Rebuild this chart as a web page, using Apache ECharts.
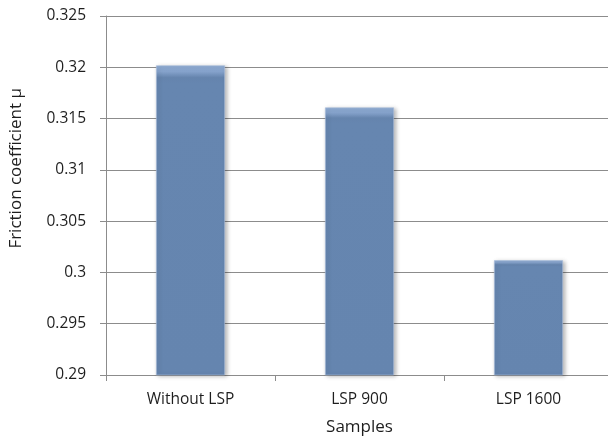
<!DOCTYPE html>
<html>
<head>
<meta charset="utf-8">
<script src="https://cdn.jsdelivr.net/npm/echarts@6/dist/echarts.min.js"></script>
<style>
  html, body { margin: 0; padding: 0; background: #fff; }
  #chart { width: 608px; height: 438px; }
</style>
</head>
<body>
<div id="chart"></div>
<script>
// Friction coefficient per sample
const categories = ['Without LSP', 'LSP 900', 'LSP 1600'];
const frictionValues = [0.3202, 0.3161, 0.3012];
const yTicks = { min: 0.29, max: 0.325, step: 0.005 };

const FONT = '"Open Sans", "Liberation Sans", sans-serif';
const TEXT = '#1e1e1e';
const AXIS = '#8c8c8c';
const chart = echarts.init(document.getElementById('chart'));

chart.setOption({
  animation: false,
  backgroundColor: '#ffffff',
  grid: {
    left: 106, top: 16, width: 507, bottom: 63,
    containLabel: false, outerBoundsMode: 'none'
  },
  xAxis: {
    type: 'category',
    data: categories,
    name: 'Samples',
    nameLocation: 'middle',
    nameGap: 44,
    nameTextStyle: { color: TEXT, fontFamily: FONT, fontSize: 17 },
    axisLine: { lineStyle: { color: AXIS, width: 1 } },
    axisTick: { show: true, length: 6, lineStyle: { color: AXIS } },
    axisLabel: { color: TEXT, fontFamily: FONT, fontSize: 15.5, margin: 17 }
  },
  yAxis: {
    type: 'value',
    min: yTicks.min,
    max: yTicks.max,
    interval: yTicks.step,
    axisLine: { show: true, lineStyle: { color: AXIS, width: 1 } },
    axisTick: { show: true, length: 6, lineStyle: { color: AXIS } },
    splitLine: { show: true, lineStyle: { color: AXIS, width: 1 } },
    axisLabel: {
      color: TEXT, fontFamily: FONT, fontSize: 15.5, margin: 20,
      formatter: v => String(parseFloat(v.toFixed(3)))
    }
  },
  graphic: [{
    type: 'text',
    left: 8,
    top: 88,
    rotation: Math.PI / 2,
    style: {
      text: 'Friction coefficient μ',
      fill: TEXT,
      font: '17px ' + FONT
    }
  }],
  series: [{
    type: 'bar',
    data: frictionValues,
    barWidth: '41%',
    itemStyle: {
      color: new echarts.graphic.LinearGradient(0, 0, 0, 1, [
        { offset: 0, color: '#90add4' },
        { offset: 0.02, color: '#86a3cc' },
        { offset: 0.04, color: '#6584ad' },
        { offset: 0.06, color: '#6686b0' },
        { offset: 1, color: '#6585af' }
      ]),
      borderColor: 'rgba(170,190,220,0.6)',
      borderWidth: 1,
      shadowColor: 'rgba(0,0,0,0.28)',
      shadowBlur: 4,
      shadowOffsetX: 2,
      shadowOffsetY: 1
    }
  }]
});
</script>
</body>
</html>
